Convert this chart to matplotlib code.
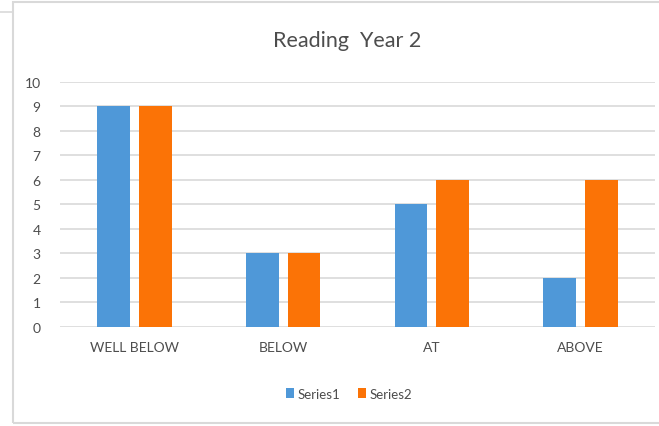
import numpy as np
import matplotlib.pyplot as plt
from matplotlib.patches import Rectangle
from matplotlib.lines import Line2D

categories = ["WELL BELOW", "BELOW", "AT", "ABOVE"]
series1 = [9, 3, 5, 2]
series2 = [9, 3, 6, 6]
yticks = list(range(0, 11))

plt.rcParams['font.family'] = ['Lato', 'DejaVu Sans']
txt = "#4d4d4d"

fig = plt.figure(figsize=(6.59, 4.27), dpi=100)
ax = fig.add_axes([0.091, 0.232, 0.903, 0.574])

x = np.arange(len(categories))
w = 0.22
ax.bar(x - 0.14, series1, w, color="#4f98d8", label="Series1", zorder=3)
ax.bar(x + 0.14, series2, w, color="#fb7306", label="Series2", zorder=3)

ax.set_xlim(-0.5, len(categories) - 0.5)
ax.set_ylim(0, 10)
ax.set_yticks(yticks)
ax.set_xticks(x)
ax.set_xticklabels(categories, fontsize=10, color=txt)
ax.tick_params(axis="y", labelsize=10, labelcolor=txt, length=0, pad=14)
ax.tick_params(axis="x", length=0, pad=10)
ax.grid(axis="y", color="#d9d9d9", linewidth=1.2, zorder=0)
for s in ax.spines.values():
    s.set_visible(False)

fig.text(0.527, 0.905, "Reading  Year 2", ha="center", va="center",
         fontsize=15.5, color=txt)

fig.legend(loc="center", bbox_to_anchor=(0.53, 0.075), ncol=2, frameon=False,
           fontsize=9.5, labelcolor=txt, handlelength=0.6, handleheight=0.8,
           columnspacing=1.3, handletextpad=0.3)

# outer chart frame
fig.add_artist(Rectangle((13 / 659, 3 / 427), 1.0, 421 / 427,
                         transform=fig.transFigure, fill=False,
                         edgecolor="#d9d9d9", linewidth=1.5))
fig.add_artist(Line2D([0, 13 / 659], [1 - 13 / 427, 1 - 13 / 427],
                      transform=fig.transFigure, color="#d9d9d9", linewidth=1.2))

fig.savefig("out.png", dpi=100)
